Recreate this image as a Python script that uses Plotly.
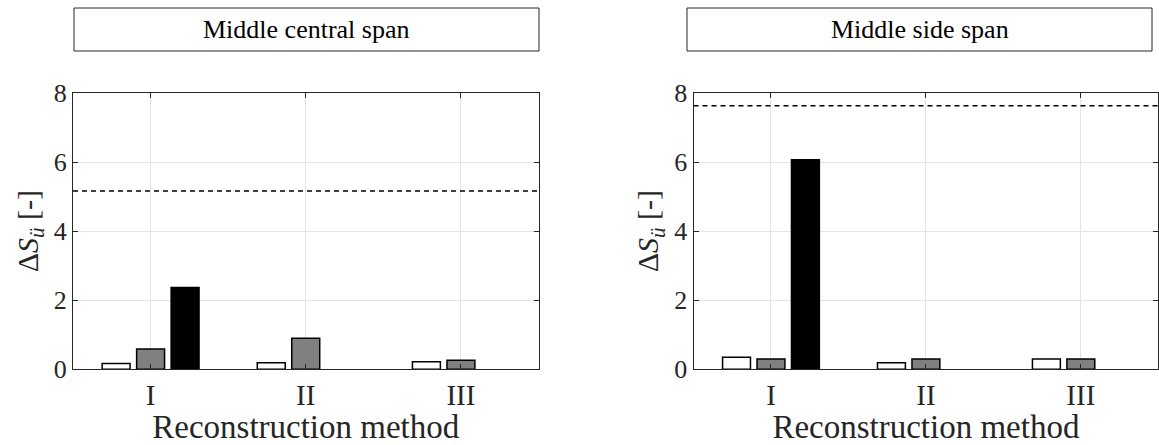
import plotly.graph_objects as go

# Reconstruction methods on the x axis
methods = ["I", "II", "III"]
method_pos = [1, 2, 3]

# Middle central span: three bar series per method
central_white = [0.17, 0.19, 0.22]
central_gray = [0.59, 0.90, 0.26]
central_black = [2.37, None, None]
central_limit = 5.16

# Middle side span
side_white = [0.35, 0.19, 0.30]
side_gray = [0.30, 0.30, 0.30]
side_black = [6.07, None, None]
side_limit = 7.63

panel_titles = ["Middle central span", "Middle side span"]
y_ticks = [0, 2, 4, 6, 8]

W, H = 1159, 445
SERIF = "Liberation Serif"
AX_COLOR = "#262626"
GRID_COLOR = "#e3e3e3"

fig = go.Figure()

panels = [
    (central_white, central_gray, central_black, central_limit, "x", "y"),
    (side_white, side_gray, side_black, side_limit, "x2", "y2"),
]
fills = ["#ffffff", "#808080", "#000000"]

for white, gray, black, limit, xa, ya in panels:
    for vals, fill in zip([white, gray, black], fills):
        fig.add_trace(go.Bar(
            x=method_pos, y=vals, xaxis=xa, yaxis=ya,
            marker=dict(color=fill, line=dict(color="#000000", width=1.5)),
            showlegend=False,
        ))
    fig.add_trace(go.Scatter(
        x=[0.5, 3.5], y=[limit, limit], xaxis=xa, yaxis=ya, mode="lines",
        line=dict(color="#000000", width=1.5, dash="5px,4px"),
        showlegend=False,
    ))

# plot area boxes in pixels
left_box = (73, 538.5)
right_box = (693.5, 1158.3)
y_top, y_bot = 93, 369.3

def px_x(v):
    return v / W

def px_y(v):
    return 1 - v / H

common_x = dict(
    range=[0.5, 3.5], tickvals=method_pos, ticktext=methods,
    showgrid=True, gridcolor=GRID_COLOR, gridwidth=1,
    showline=True, linecolor=AX_COLOR, linewidth=1, mirror="ticks",
    ticks="inside", ticklen=5, tickcolor=AX_COLOR,
    tickfont=dict(family=SERIF, size=29, color="#262626"),
    title=dict(text="Reconstruction method", standoff=2,
               font=dict(family=SERIF, size=33, color="#262626")),
    zeroline=False, fixedrange=True, automargin=False,
)
common_y = dict(
    range=[0, 8], tickvals=y_ticks,
    showgrid=True, gridcolor=GRID_COLOR, gridwidth=1,
    showline=True, linecolor=AX_COLOR, linewidth=1, mirror="ticks",
    ticks="inside", ticklen=5, tickcolor=AX_COLOR,
    tickfont=dict(family=SERIF, size=26, color="#262626"),
    title=dict(text="Δ<i>S</i><sub><i>ü</i></sub> [-]", standoff=6,
               font=dict(family=SERIF, size=30, color="#262626")),
    zeroline=False, fixedrange=True, automargin=False,
)

fig.update_layout(
    template="none",
    width=W, height=H,
    margin=dict(l=0, r=0, t=0, b=0, pad=0),
    paper_bgcolor="#ffffff", plot_bgcolor="#ffffff",
    font=dict(family=SERIF, color="#262626"),
    barmode="group", bargap=0.333, bargroupgap=0.19,
    xaxis=dict(common_x, domain=[px_x(left_box[0]), px_x(left_box[1])], anchor="y"),
    yaxis=dict(common_y, domain=[px_y(y_bot), px_y(y_top)], anchor="x"),
    xaxis2=dict(common_x, domain=[px_x(right_box[0]), px_x(right_box[1])], anchor="y2"),
    yaxis2=dict(common_y, domain=[px_y(y_bot), px_y(y_top)], anchor="x2"),
)

# framed panel titles above each plot
title_boxes = [(74, 539), (687, 1152)]
for (x0, x1), text in zip(title_boxes, panel_titles):
    fig.add_shape(type="rect", xref="paper", yref="paper",
                  x0=px_x(x0), x1=px_x(x1), y0=px_y(51), y1=px_y(8),
                  line=dict(color="#262626", width=1), fillcolor="#ffffff")
    fig.add_annotation(xref="paper", yref="paper",
                       x=px_x((x0 + x1) / 2), y=px_y(29.5),
                       text=text, showarrow=False,
                       xanchor="center", yanchor="middle",
                       font=dict(family=SERIF, size=26, color="#000000"))

fig.write_html("out.html")
